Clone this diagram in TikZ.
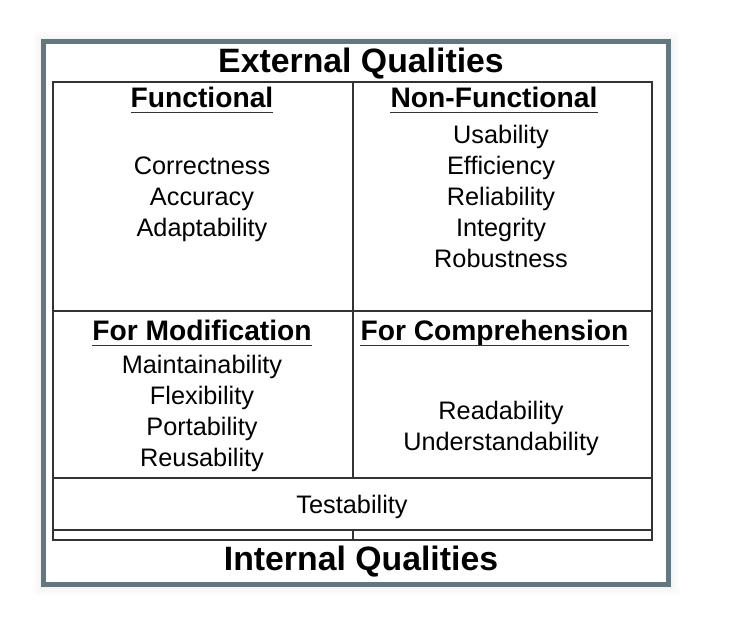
\documentclass[tikz,border=0pt]{standalone}
\usepackage{fontspec}
\setmainfont{Liberation Sans}
\definecolor{framegray}{HTML}{627780}
\definecolor{gridline}{HTML}{333333}
\begin{document}
\begin{tikzpicture}[x=1pt,y=-1pt,
  frame/.style={draw=framegray, line width=5pt},
  gridbox/.style={draw=gridline, line width=1.2pt},
  title/.style={font=\fontsize{33.8}{38}\selectfont\bfseries, inner sep=0pt, anchor=base},
  heading/.style={font=\fontsize{28.2}{33}\selectfont\bfseries, inner sep=0pt, anchor=base},
  item/.style={font=\fontsize{25.3}{30}\selectfont, inner sep=0pt, anchor=base},
  uline/.style={draw=black!80, line width=1.8pt}]
  \useasboundingbox (0,0) rectangle (737,622);
  \fill[white] (0,0) rectangle (737,622);

  % soft shadow around the frame
  \foreach \d/\o in {9/0.01,7/0.018,5/0.028,3/0.04}
    \draw[black, opacity=\o, line width=2pt] (43.5-\d,41.5-\d) rectangle (668.5+\d,584.5+\d);

  % outer frame
  \draw[frame, fill=white] (43.5,41.5) rectangle (668.5,584.5);

  % table grid
  \draw[gridbox] (53,82) rectangle (652,540);
  \draw[gridbox] (353,82) -- (353,478);
  \draw[gridbox] (53,311) -- (652,311);
  \draw[gridbox] (53,478) -- (652,478);
  \draw[gridbox] (53,530) -- (652,530);
  \draw[gridbox] (353,530) -- (353,540);

  % titles
  \node[title] (ext) at (361,72) {External Qualities};
  \node[title] (int) at (361,570) {Internal Qualities};

  % headings
  \node[heading] (hfun) at (202,107) {Functional};
  \node[heading] (hnon) at (494,107) {Non-Functional};
  \node[heading] (hmod) at (202,340) {For Modification};
  \node[heading] (hcom) at (494.5,340) {For Comprehension};
  \foreach \h in {hfun,hnon,hmod,hcom}
    \draw[uline] ([yshift=-5.5pt]\h.base west) -- ([yshift=-5.5pt]\h.base east);

  % functional
  \node[item] (corr) at (202,174) {Correctness};
  \node[item] (accu) at (202,205) {Accuracy};
  \node[item] (adap) at (202,236) {Adaptability};

  % non-functional
  \node[item] (usab) at (501,143) {Usability};
  \node[item] (effi) at (501,174) {Efficiency};
  \node[item] (reli) at (501,205) {Reliability};
  \node[item] (inte) at (501,236) {Integrity};
  \node[item] (robu) at (501,267) {Robustness};

  % for modification
  \node[item] (main) at (202,373) {Maintainability};
  \node[item] (flex) at (202,404) {Flexibility};
  \node[item] (port) at (202,435) {Portability};
  \node[item] (reus) at (202,466) {Reusability};

  % for comprehension
  \node[item] (read) at (501,419) {Readability};
  \node[item] (unde) at (501,450) {Understandability};

  % bottom row
  \node[item] (test) at (352,513) {Testability};
\end{tikzpicture}
\end{document}
